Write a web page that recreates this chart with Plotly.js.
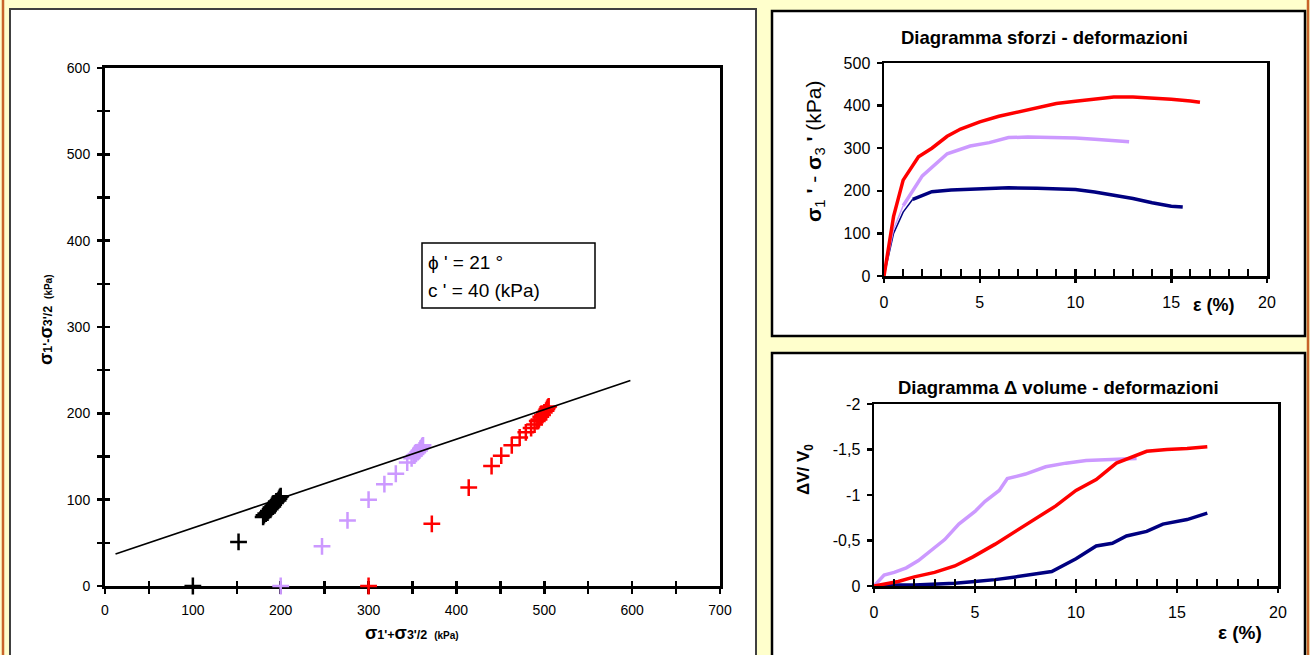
<!DOCTYPE html>
<html>
<head>
<meta charset="utf-8">
<script src="https://cdn.plot.ly/plotly-3.0.1.min.js"></script>
<style>html,body{margin:0;padding:0;background:#FFFFCC;}#chart{width:1310px;height:655px;}</style>
</head>
<body>
<div id="chart"></div>
<script>
// ---------- DATA ----------
// Left chart: s' - t' stress paths
const failX = [12, 598];
const failY = [37, 238];
const blackX = [100, 152, 180, 181, 183, 185, 186, 188, 189, 191, 192, 194, 195, 197, 198, 199, 200];
const blackY = [0, 51, 80, 82, 84, 85, 87, 89, 91, 92, 94, 96, 98, 99, 101, 103, 104];
const purpleX = [200, 247, 276, 300, 318, 331, 344, 349, 352, 354, 356, 358, 359, 360, 361, 362];
const purpleY = [0, 46, 76, 100, 118, 130, 143, 148, 151, 153, 155, 157, 159, 160, 162, 163];
const redX = [300, 372, 414, 440, 451, 463, 472, 479, 485, 489, 492, 494, 496, 498, 500, 502, 503, 504, 505];
const redY = [0, 72, 114, 139, 151, 163, 172, 178, 183, 187, 191, 193, 196, 198, 201, 203, 205, 207, 208];

// Top-right: stress - strain
const ssRedX = [0, 0.5, 1, 1.8, 2.5, 3.3, 4, 5, 6, 7, 8, 9, 10, 11, 12, 13, 14, 15, 16, 16.5];
const ssRedY = [0, 140, 225, 280, 300, 328, 345, 362, 375, 385, 395, 405, 410, 416, 420, 420, 418, 415, 411, 408];
const ssPurX = [0, 0.5, 1, 1.5, 2, 3.3, 4.5, 5.5, 6.5, 7.5, 8.5, 10, 11, 12, 12.8];
const ssPurY = [0, 110, 165, 200, 235, 287, 305, 313, 325, 326, 326, 324, 321, 317, 315];
const ssNavX = [0, 0.5, 1, 1.5, 2, 2.5, 3.5, 5, 6.5, 8, 9, 10, 11, 12, 13, 14, 15, 15.6];
const ssNavY = [0, 100, 150, 180, 190, 198, 202, 205, 207, 206, 205, 203, 197, 190, 182, 172, 164, 162];

// Bottom-right: volume change - strain
const dvPurX = [0, 0.5, 1, 1.6, 2.2, 3, 3.5, 4.2, 5, 5.5, 6.2, 6.6, 7.5, 8.5, 9.5, 10.5, 11.5, 12.5, 13];
const dvPurY = [0, -0.12, -0.15, -0.2, -0.28, -0.42, -0.51, -0.68, -0.82, -0.93, -1.05, -1.18, -1.23, -1.31, -1.35, -1.38, -1.39, -1.4, -1.4];
const dvRedX = [0, 1.2, 2, 3, 4, 4.9, 6, 7, 8, 9, 10, 11, 12, 13, 13.5, 14.5, 15.5, 16.5];
const dvRedY = [0, -0.05, -0.1, -0.15, -0.22, -0.32, -0.46, -0.6, -0.75, -0.88, -1.05, -1.17, -1.35, -1.44, -1.48, -1.5, -1.51, -1.53];
const dvNavX = [0, 1, 2, 3, 4, 5, 6, 7, 8, 8.8, 10, 11, 11.8, 12.5, 13.5, 14.3, 15.5, 16.5];
const dvNavY = [0, -0.01, -0.01, -0.02, -0.03, -0.05, -0.07, -0.1, -0.13, -0.16, -0.3, -0.44, -0.47, -0.55, -0.6, -0.68, -0.73, -0.8];
const dvTickVals = [-2, -1.5, -1, -0.5, 0];
const dvTickText = ['-2', '-1,5', '-1', '-0,5', '0'];

// ---------- LAYOUT HELPERS ----------
const W = 1310, H = 655;
const fx = p => p / W;
const fy = p => 1 - p / H;
const RED = '#FF0000', PUR = '#CC99FF', NAV = '#000080';
const FONT = 'Liberation Sans, Arial, sans-serif';

function mk(x, y, c) {
  return {x: x, y: y, xaxis: 'x', yaxis: 'y', mode: 'markers', type: 'scatter', cliponaxis: false,
    marker: {symbol: 'cross-thin-open', size: 12, color: c, line: {width: 2.5, color: c}}, hoverinfo: 'none'};
}
function ln(x, y, c, ax, ay, w) {
  return {x: x, y: y, xaxis: ax, yaxis: ay, mode: 'lines', type: 'scatter', cliponaxis: false,
    line: {color: c, width: w}, hoverinfo: 'none'};
}

const traces = [
  mk(blackX, blackY, 'black'),
  mk(purpleX, purpleY, PUR),
  mk(redX, redY, RED),
  ln(failX, failY, 'black', 'x', 'y', 1.7),
  {x: [], y: [], xaxis: 'x4', yaxis: 'y4', type: 'scatter', mode: 'markers'},
  // top right
  ln(ssNavX.slice(0, 4), ssNavY.slice(0, 4), NAV, 'x2', 'y2', 1.5),
  ln(ssNavX.slice(3), ssNavY.slice(3), NAV, 'x2', 'y2', 3.5),
  ln(ssPurX.slice(0, 3), ssPurY.slice(0, 3), PUR, 'x2', 'y2', 1.5),
  ln(ssPurX.slice(2), ssPurY.slice(2), PUR, 'x2', 'y2', 3.5),
  ln(ssRedX, ssRedY, RED, 'x2', 'y2', 3.5),
  {x: [], y: [], xaxis: 'x5', yaxis: 'y2', type: 'scatter', mode: 'markers'},
  // bottom right
  ln(dvNavX, dvNavY, NAV, 'x3', 'y3', 3.5),
  ln(dvPurX, dvPurY, PUR, 'x3', 'y3', 3.5),
  ln(dvRedX, dvRedY, RED, 'x3', 'y3', 3.5),
  {x: [], y: [], xaxis: 'x6', yaxis: 'y3', type: 'scatter', mode: 'markers'}
];

const baseAx = {showgrid: false, zeroline: false, showline: true, linecolor: 'black', linewidth: 2,
  mirror: true, tickcolor: 'black', autorange: false, fixedrange: true};
const overAx = {showgrid: false, zeroline: false, showline: false, showticklabels: false,
  ticks: 'inside', tickcolor: 'black', autorange: false, fixedrange: true};

const dL = [fx(105), fx(720)], dLy = [fy(586), fy(68)];
const dT = [fx(884), fx(1267)], dTy = [fy(276), fy(63)];
const dB = [fx(874), fx(1278)], dBy = [fy(586), fy(404)];

const layout = {
  width: W, height: H, margin: {l: 0, r: 0, t: 0, b: 0},
  paper_bgcolor: '#FFFFCC', plot_bgcolor: 'white', showlegend: false,
  font: {family: FONT, color: 'black'},
  xaxis: Object.assign({}, baseAx, {domain: dL, anchor: 'y', range: [0, 700], tick0: 0, dtick: 100,
    linewidth: 3, layer: 'below traces',
    ticks: 'outside', ticklen: 5, tickwidth: 2.5, ticklabelstandoff: 4,
    minor: {dtick: 50, ticks: 'outside', ticklen: 5, tickwidth: 2.5, tickcolor: 'black'},
    tickfont: {size: 14}}),
  yaxis: Object.assign({}, baseAx, {domain: dLy, anchor: 'x', range: [0, 600], tick0: 0, dtick: 100,
    linewidth: 3, layer: 'below traces',
    ticks: 'outside', ticklen: 5, tickwidth: 2.5, ticklabelstandoff: 4,
    minor: {dtick: 50, ticks: 'outside', ticklen: 5, tickwidth: 2.5, tickcolor: 'black'},
    tickfont: {size: 14}}),
  xaxis4: Object.assign({}, overAx, {domain: dL, overlaying: 'x', anchor: 'y', range: [0, 700], tick0: 0, dtick: 50, ticklen: 5, tickwidth: 2.5, layer: 'below traces'}),
  yaxis4: Object.assign({}, overAx, {domain: dLy, overlaying: 'y', anchor: 'x', range: [0, 600], tick0: 0, dtick: 50, ticklen: 5, tickwidth: 2.5, layer: 'below traces'}),

  xaxis2: Object.assign({}, baseAx, {domain: dT, anchor: 'y2', range: [0, 20], tick0: 0, dtick: 5,
    linewidth: 2.5, ticks: 'outside', ticklen: 4, tickwidth: 2.5, ticklabelstandoff: 6, tickfont: {size: 16}}),
  yaxis2: Object.assign({}, baseAx, {domain: dTy, anchor: 'x2', range: [0, 500], tick0: 0, dtick: 100,
    linewidth: 2.5, ticks: 'outside', ticklen: 5, tickwidth: 2.5, ticklabelstandoff: 3, tickfont: {size: 16}}),
  xaxis5: Object.assign({}, overAx, {domain: dT, overlaying: 'x2', anchor: 'y2', range: [0, 20], tick0: 0, dtick: 5,
    ticklen: 7, tickwidth: 2.5, minor: {dtick: 1, ticks: 'inside', ticklen: 7, tickwidth: 2, tickcolor: 'black'}}),

  xaxis3: Object.assign({}, baseAx, {domain: dB, anchor: 'y3', range: [0, 20], tick0: 0, dtick: 5,
    linewidth: 2.5, ticks: 'outside', ticklen: 4, tickwidth: 2.5, ticklabelstandoff: 6, tickfont: {size: 16}}),
  yaxis3: Object.assign({}, baseAx, {domain: dBy, anchor: 'x3', range: [0, -2], tickmode: 'array',
    tickvals: dvTickVals, ticktext: dvTickText,
    linewidth: 2.5, ticks: 'outside', ticklen: 5, tickwidth: 2.5, ticklabelstandoff: 3, tickfont: {size: 16}}),
  xaxis6: Object.assign({}, overAx, {domain: dB, overlaying: 'x3', anchor: 'y3', range: [0, 20], tick0: 0, dtick: 5,
    ticklen: 7, tickwidth: 2.5, minor: {dtick: 1, ticks: 'inside', ticklen: 7, tickwidth: 2, tickcolor: 'black'}}),

  shapes: [
    {type: 'line', xref: 'paper', yref: 'paper', x0: fx(3), x1: fx(3), y0: 0, y1: 1, line: {color: '#C8642A', width: 2.5}, layer: 'below'},
    {type: 'line', xref: 'paper', yref: 'paper', x0: fx(1308), x1: fx(1308), y0: 0, y1: 1, line: {color: '#C8642A', width: 2.5}, layer: 'below'},
    {type: 'rect', xref: 'paper', yref: 'paper', x0: fx(10), x1: fx(756), y0: fy(660), y1: fy(9), fillcolor: 'white', line: {color: '#404040', width: 2}, layer: 'below'},
    {type: 'rect', xref: 'paper', yref: 'paper', x0: fx(772), x1: fx(1305), y0: fy(336), y1: fy(11), fillcolor: 'white', line: {color: 'black', width: 2.5}, layer: 'below'},
    {type: 'rect', xref: 'paper', yref: 'paper', x0: fx(772), x1: fx(1305), y0: fy(662), y1: fy(353), fillcolor: 'white', line: {color: 'black', width: 2.5}, layer: 'below'},
    {type: 'rect', xref: 'paper', yref: 'paper', x0: fx(422), x1: fx(595), y0: fy(308), y1: fy(243), fillcolor: 'white', line: {color: 'black', width: 1.5}, layer: 'above'}
  ],
  annotations: [
    {xref: 'paper', yref: 'paper', x: fx(426), y: fy(262), xanchor: 'left', yanchor: 'middle', showarrow: false,
      text: 'ϕ \' = 21 °', font: {size: 19}},
    {xref: 'paper', yref: 'paper', x: fx(426), y: fy(290), xanchor: 'left', yanchor: 'middle', showarrow: false,
      text: 'c \' = 40 (kPa)', font: {size: 19}},
    {xref: 'paper', yref: 'paper', x: fx(412), y: fy(633), xanchor: 'center', yanchor: 'middle', showarrow: false,
      text: "<b><span style='font-size:18px'>σ</span>1'+<span style='font-size:18px'>σ</span>3'/2\u00a0\u00a0<span style='font-size:10px'>(kPa)</span></b>",
      font: {size: 12.5}},
    {xref: 'paper', yref: 'paper', x: fx(46), y: fy(320), xanchor: 'center', yanchor: 'middle', showarrow: false, textangle: -90,
      text: "<b><span style='font-size:18px'>σ</span>1'-<span style='font-size:18px'>σ</span>3'/2\u00a0\u00a0<span style='font-size:10px'>(kPa)</span></b>",
      font: {size: 12.5}},
    {xref: 'paper', yref: 'paper', x: fx(1044), y: fy(38), xanchor: 'center', yanchor: 'middle', showarrow: false,
      text: '<b>Diagramma sforzi - deformazioni</b>', font: {size: 18.5}},
    {xref: 'paper', yref: 'paper', x: fx(815), y: fy(152), xanchor: 'center', yanchor: 'middle', showarrow: false, textangle: -90,
      text: "<b>σ</b><sub>1</sub> <b>'</b> - <b>σ</b><sub>3</sub> <b>'</b> (kPa)", font: {size: 21}},
    {xref: 'paper', yref: 'paper', x: fx(1214), y: fy(305), xanchor: 'center', yanchor: 'middle', showarrow: false,
      text: '<b>ε (%)</b>', font: {size: 18}},
    {xref: 'paper', yref: 'paper', x: fx(1058), y: fy(387), xanchor: 'center', yanchor: 'middle', showarrow: false,
      text: '<b>Diagramma Δ volume - deformazioni</b>', font: {size: 18.5}},
    {xref: 'paper', yref: 'paper', x: fx(805), y: fy(470), xanchor: 'center', yanchor: 'middle', showarrow: false, textangle: -90,
      text: '<b>ΔV/ V<sub>0</sub></b>', font: {size: 17}},
    {xref: 'paper', yref: 'paper', x: fx(1240), y: fy(632), xanchor: 'center', yanchor: 'middle', showarrow: false,
      text: '<b>ε (%)</b>', font: {size: 19}}
  ]
};

Plotly.newPlot('chart', traces, layout, {staticPlot: true, displayModeBar: false});
</script>
</body>
</html>
